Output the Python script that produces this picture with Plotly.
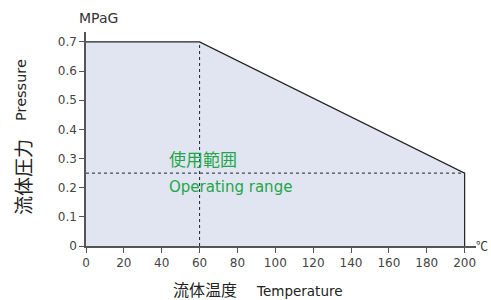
import plotly.graph_objects as go

# Data
temps = [0, 60, 200]
pressures = [0.7, 0.7, 0.25]
x_ticks = [0, 20, 40, 60, 80, 100, 120, 140, 160, 180, 200]
y_ticks = [0, 0.1, 0.2, 0.3, 0.4, 0.5, 0.6, 0.7]
y_tick_labels = ["0", "0.1", "0.2", "0.3", "0.4", "0.5", "0.6", "0.7"]
knee_temp = 60
max_temp = 200
min_pressure = 0.25

FONT = "DejaVu Sans, Noto Sans CJK JP, sans-serif"
CJK = "Noto Sans CJK JP, sans-serif"
GREEN = "#22a548"
AX = "#555555"

fig = go.Figure()

# Filled operating region
fig.add_trace(go.Scatter(
    x=[0] + temps + [max_temp, 0],
    y=[0] + pressures + [0, 0],
    fill="toself", fillcolor="#e1e5f2",
    line=dict(width=0), mode="lines", hoverinfo="skip", showlegend=False))

# Boundary line
fig.add_trace(go.Scatter(
    x=temps + [max_temp], y=pressures + [0],
    mode="lines", line=dict(color="#222222", width=1.2),
    showlegend=False, hoverinfo="skip"))

# Dashed lines
fig.add_trace(go.Scatter(
    x=[knee_temp, knee_temp], y=[0, pressures[1]],
    mode="lines", line=dict(color="#222222", width=1, dash="dot"),
    showlegend=False, hoverinfo="skip"))
fig.add_trace(go.Scatter(
    x=[0, max_temp], y=[min_pressure, min_pressure],
    mode="lines", line=dict(color="#222222", width=1, dash="dot"),
    showlegend=False, hoverinfo="skip"))

fig.update_layout(
    width=491, height=300,
    margin=dict(l=86, r=15, t=32, b=54),
    plot_bgcolor="white", paper_bgcolor="white",
    font=dict(family=FONT, size=12, color="#444444"),
    xaxis=dict(range=[0, 206.0], tickvals=x_ticks, ticks="outside",
               ticklen=5, tickcolor=AX, showline=True, linecolor=AX,
               linewidth=1.5, showgrid=False, zeroline=False,
               tickfont=dict(size=12, color="#444444")),
    yaxis=dict(range=[0, 0.734], tickvals=y_ticks, ticktext=y_tick_labels,
               ticks="outside", ticklen=5, tickcolor=AX, showline=True,
               linecolor=AX, linewidth=1.5, showgrid=False, zeroline=False,
               tickfont=dict(size=12, color="#444444")),
)

ann = [
    dict(text="MPaG", x=77, y=18, size=14, color="#333333", anchor="left", font=FONT),
    dict(text="℃", x=490, y=245, size=12, color="#333333", anchor="right", font=CJK),
    dict(text="使用範囲", x=167, y=158, size=17, color=GREEN, anchor="left", font=CJK),
    dict(text="Operating range", x=167, y=187, size=15, color=GREEN, anchor="left", font=FONT),
    dict(text="流体温度", x=171, y=289, size=16, color="#222222", anchor="left", font=CJK),
    dict(text="Temperature", x=254, y=291, size=13.5, color="#222222", anchor="left", font=FONT),
    dict(text="Pressure", x=21, y=90, size=14.5, color="#222222", angle=-90, font=FONT),
    dict(text="流体圧力", x=22, y=177, size=19, color="#222222", angle=-90, font=CJK),
]
for a in ann:
    fig.add_annotation(
        text=a["text"], xref="paper", yref="paper",
        x=(a["x"] - 86) / (491 - 86 - 15), y=(300 - 54 - a["y"]) / (300 - 32 - 54),
        xanchor=a.get("anchor", "center"), yanchor="middle", showarrow=False,
        textangle=a.get("angle", 0),
        font=dict(family=a["font"], size=a["size"], color=a["color"]))

fig.write_html("out.html", config={"displayModeBar": False},
               post_script="document.body.style.margin='0';")
